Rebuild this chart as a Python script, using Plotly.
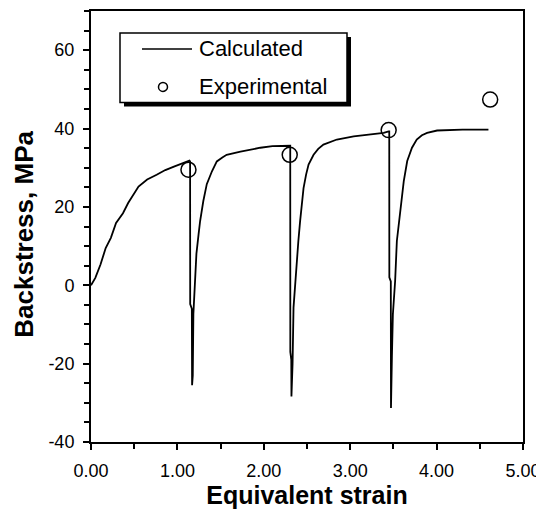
import plotly.graph_objects as go

# ---- data ----
calc_strain = [
    0.0, 0.05, 0.11, 0.17, 0.23, 0.29, 0.37, 0.43, 0.55, 0.65, 0.76, 0.86, 0.96, 1.06, 1.12, 1.14,
    1.147, 1.148, 1.167, 1.170,
    1.178, 1.185, 1.20, 1.22, 1.245, 1.263, 1.30, 1.34, 1.40, 1.456, 1.52, 1.57, 1.73, 1.96, 2.10, 2.286,
    2.306, 2.307, 2.318, 2.320,
    2.326, 2.333, 2.344, 2.36, 2.383, 2.40, 2.42, 2.44, 2.46, 2.49, 2.518, 2.576, 2.63, 2.69, 2.846, 3.04, 3.23, 3.387, 3.445,
    3.452, 3.453, 3.470, 3.472,
    3.478, 3.483, 3.494, 3.52, 3.54, 3.58, 3.62, 3.66, 3.715, 3.77, 3.83, 3.89, 4.006, 4.30, 4.60,
]
calc_backstress = [
    0.0, 1.9, 5.3, 9.5, 12.1, 15.9, 18.4, 21.0, 25.2, 27.0, 28.2, 29.4, 30.3, 31.1, 31.5, 31.8,
    31.6, -4.8, -6.0, -25.5,
    -23.0, -7.3, 0.0, 8.0, 13.0, 16.4, 21.5, 25.8, 29.1, 31.6, 32.6, 33.3, 34.1, 35.1, 35.5, 35.6,
    35.6, -17.0, -19.0, -28.4,
    -25.0, -20.0, -5.7, 0.0, 6.2, 11.3, 16.3, 20.5, 24.8, 28.3, 30.8, 33.3, 34.8, 35.9, 37.2, 38.0, 38.5, 38.9, 39.3,
    39.3, 2.0, 1.0, -31.3,
    -27.0, -18.0, -7.4, 1.1, 11.3, 19.8, 26.6, 31.7, 35.1, 37.2, 38.3, 38.9, 39.5, 39.7, 39.7,
]
exp_strain = [1.128, 2.30, 3.445, 4.62]
exp_backstress = [29.5, 33.3, 39.6, 47.4]

x_ticks = [0, 1, 2, 3, 4, 5]
y_ticks = [-40, -20, 0, 20, 40, 60]
series_names = ["Calculated", "Experimental"]
x_title = "Equivalent strain"
y_title = "Backstress, MPa"

# ---- layout geometry (pixels, page coordinates; the page body has an 8px margin) ----
OFF = 8
W, H = 544 - OFF, 511 - OFF
PL, PR, PT, PB = 91, 523, 11, 442.5          # plot-area edges in page pixels
ML, MR, MT, MB = PL - OFF, W - (PR - OFF), PT - OFF, H - (PB - OFF)
PW, PH = PR - PL, PB - PT


def px(xp):
    return (xp - PL) / PW


def py(yp):
    return (PB - yp) / PH


FONT = "Arial, Liberation Sans, sans-serif"

fig = go.Figure()
fig.add_trace(go.Scatter(
    x=calc_strain, y=calc_backstress, mode="lines",
    line=dict(color="black", width=1.8), name=series_names[0], showlegend=False,
))
fig.add_trace(go.Scatter(
    x=exp_strain, y=exp_backstress, mode="markers",
    marker=dict(symbol="circle-open", size=15, color="black", line=dict(width=1.5)),
    name=series_names[1], showlegend=False,
))

# manual legend
shapes = [
    dict(type="rect", xref="paper", yref="paper", x0=px(124), x1=px(351), y0=py(106.5), y1=py(37),
         fillcolor="black", line=dict(width=0), layer="above"),
    dict(type="rect", xref="paper", yref="paper", x0=px(120), x1=px(347), y0=py(102.5), y1=py(33),
         fillcolor="white", line=dict(color="black", width=1.5), layer="above"),
    dict(type="line", xref="paper", yref="paper", x0=px(142), x1=px(192), y0=py(49), y1=py(49),
         line=dict(color="black", width=1.6), layer="above"),
    dict(type="circle", xref="paper", yref="paper", x0=px(158.5), x1=px(167.5), y0=py(91.5), y1=py(82.5),
         line=dict(color="black", width=1.5), layer="above"),
]
annotations = [
    dict(xref="paper", yref="paper", x=px(197), y=py(49), xanchor="left", yanchor="middle",
         text=series_names[0], showarrow=False, font=dict(family=FONT, size=22, color="black")),
    dict(xref="paper", yref="paper", x=px(197), y=py(87), xanchor="left", yanchor="middle",
         text=series_names[1], showarrow=False, font=dict(family=FONT, size=22, color="black")),
    dict(xref="paper", yref="paper", x=px(24), y=py(235), xanchor="center", yanchor="middle",
         text=f"<b>{y_title}</b>", textangle=-90, showarrow=False,
         font=dict(family=FONT, size=26, color="black")),
]

fig.update_layout(
    width=W, height=H,
    margin=dict(l=ML, r=MR, t=MT, b=MB, pad=0, autoexpand=False),
    paper_bgcolor="white", plot_bgcolor="white",
    showlegend=False,
    shapes=shapes, annotations=annotations,
    font=dict(family=FONT, color="black"),
)
fig.update_xaxes(
    range=[0, 5], tickvals=x_ticks, ticktext=[f"{v:.2f}" for v in x_ticks],
    showgrid=False, zeroline=False, automargin=False,
    showline=True, linecolor="black", linewidth=2, mirror=True,
    ticks="outside", ticklen=6, tickwidth=2, tickcolor="black",
    minor=dict(dtick=0.5, ticks="outside", ticklen=5, tickwidth=2, tickcolor="black", showgrid=False),
    tickfont=dict(family=FONT, size=18, color="black"),
    ticklabelstandoff=5,
    title=dict(text=f"<b>{x_title}</b>", font=dict(family=FONT, size=25, color="black"), standoff=4),
)
fig.update_yaxes(
    range=[-40, 70], tickvals=y_ticks, ticktext=[str(v) for v in y_ticks],
    showgrid=False, zeroline=False, automargin=False,
    showline=True, linecolor="black", linewidth=2, mirror=True,
    ticks="outside", ticklen=6, tickwidth=2, tickcolor="black",
    minor=dict(dtick=5, ticks="outside", ticklen=5, tickwidth=2, tickcolor="black", showgrid=False),
    tickfont=dict(family=FONT, size=18, color="black"),
    ticklabelstandoff=5,
)

fig.write_html("out.html")
